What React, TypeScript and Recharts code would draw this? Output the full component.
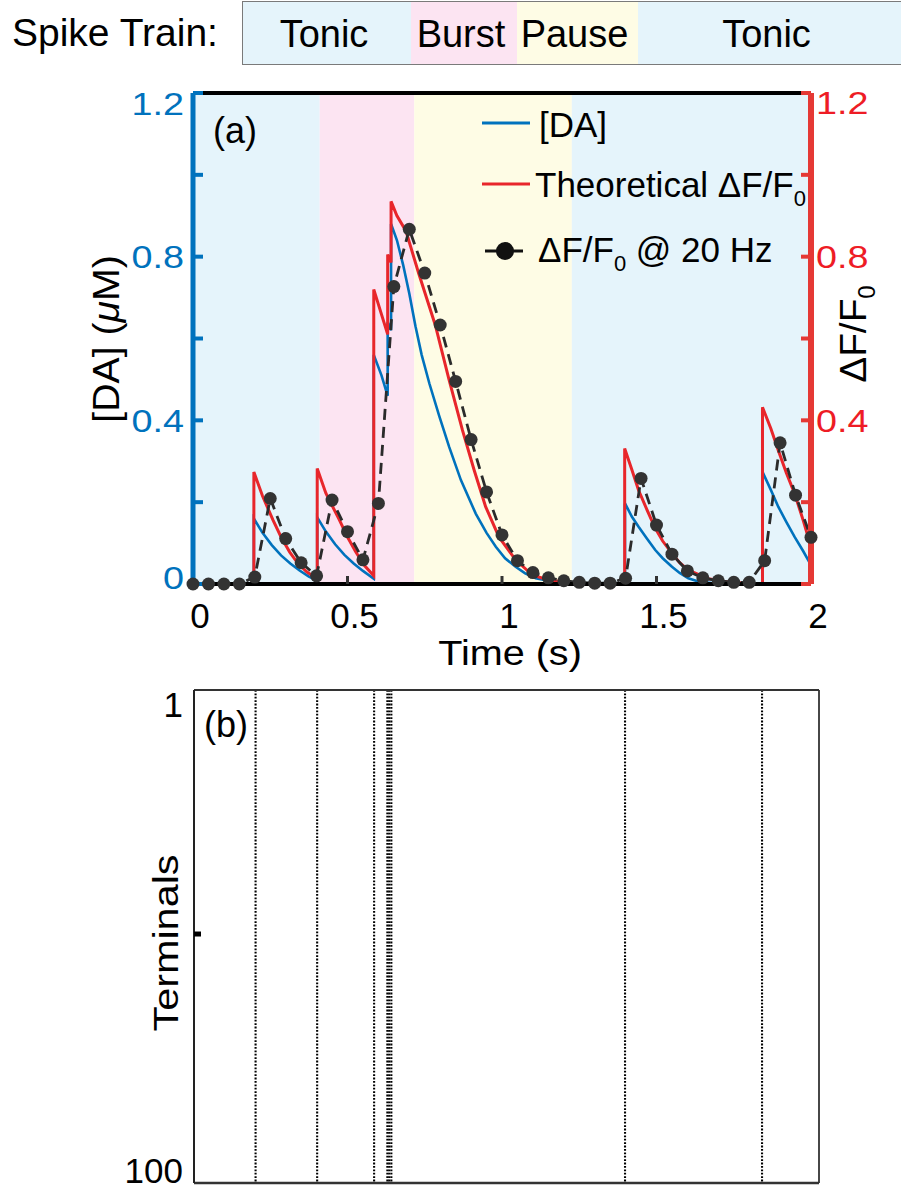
import React from 'react';
import {
  ComposedChart,
  Line,
  XAxis,
  YAxis,
  ReferenceArea,
  BarChart,
  Bar,
  LabelList,
} from 'recharts';

const FONT = '"Liberation Sans", Arial, Helvetica, sans-serif';
const BLUE = '#0072BD';
const RED = '#E8262B';
const AXRED = '#E53935';
const DOT = '#333333';

// ---- Spike train header ----
const trainLabels = ['Tonic', 'Burst', 'Pause', 'Tonic'];
const trainSpans = [168, 106, 121, 263];
const trainColors = ['#E5F4FB', '#FCE4F2', '#FEFCE5', '#E5F4FB'];

// ---- Panel (a) background phases ----
const phaseStart = [0, 0.41, 0.716, 1.226];
const phaseEnd = [0.41, 0.716, 1.226, 2];
const phaseColors = ['#E5F4FB', '#FCE4F2', '#FEFCE5', '#E5F4FB'];

// ---- [DA] (uM), left axis ----
const daTime = [
  0, 0.197, 0.197, 0.225, 0.255, 0.285, 0.315, 0.345, 0.375, 0.402,
  0.402, 0.43, 0.46, 0.49, 0.52, 0.55, 0.585,
  0.585, 0.61, 0.63, 0.63, 0.641, 0.641, 0.66, 0.68, 0.7, 0.72, 0.74, 0.765,
  0.797, 0.829, 0.867, 0.915, 0.95, 0.98, 1.01, 1.044, 1.075, 1.109, 1.17, 1.25, 1.398,
  1.398, 1.42, 1.442, 1.47, 1.496, 1.52, 1.55, 1.575, 1.603, 1.64, 1.7, 1.843,
  1.843, 1.87, 1.894, 1.92, 1.947, 1.975, 2.0,
];
const daValue = [
  0, 0, 0.16, 0.125, 0.095, 0.07, 0.05, 0.033, 0.018, 0.008,
  0.163, 0.128, 0.097, 0.071, 0.05, 0.032, 0.013,
  0.56, 0.51, 0.46, 0.64, 0.62, 0.88, 0.84, 0.78, 0.71, 0.63, 0.56, 0.49,
  0.41, 0.335, 0.254, 0.172, 0.125, 0.091, 0.063, 0.042, 0.026, 0.014, 0.005, 0.001, 0,
  0.197, 0.165, 0.14, 0.11, 0.083, 0.063, 0.042, 0.027, 0.014, 0.005, 0.001, 0,
  0.274, 0.23, 0.189, 0.152, 0.115, 0.08, 0.046,
];

// ---- Theoretical dF/F0, right axis ----
const theoTime = [
  0, 0.197, 0.197, 0.225, 0.259, 0.285, 0.313, 0.34, 0.368, 0.402,
  0.402, 0.43, 0.474, 0.5, 0.527, 0.555, 0.585,
  0.585, 0.63, 0.63, 0.641, 0.641, 0.66, 0.689, 0.73, 0.784, 0.829, 0.872, 0.91,
  0.947, 0.99, 1.044, 1.098, 1.15, 1.22, 1.3, 1.397,
  1.397, 1.42, 1.442, 1.47, 1.496, 1.52, 1.55, 1.575, 1.603, 1.668, 1.74, 1.843,
  1.843, 1.87, 1.894, 1.92, 1.947, 1.975, 2.0,
];
const theoValue = [
  0, 0, 0.274, 0.215, 0.156, 0.115, 0.078, 0.05, 0.03, 0.012,
  0.282, 0.222, 0.156, 0.115, 0.078, 0.045, 0.02,
  0.72, 0.61, 0.805, 0.786, 0.935, 0.9, 0.863, 0.76, 0.633, 0.498, 0.376, 0.278,
  0.189, 0.115, 0.059, 0.022, 0.01, 0.003, 0, 0,
  0.331, 0.28, 0.229, 0.18, 0.136, 0.105, 0.075, 0.052, 0.034, 0.013, 0.004, 0,
  0.432, 0.38, 0.327, 0.272, 0.221, 0.155, 0.091,
];

// ---- dF/F0 sampled @ 20 Hz, right axis ----
const sampleTime = [
  0, 0.05, 0.1, 0.15, 0.2, 0.25, 0.3, 0.35, 0.4, 0.45,
  0.5, 0.55, 0.6, 0.65, 0.7, 0.75, 0.8, 0.85, 0.9, 0.95,
  1.0, 1.05, 1.1, 1.15, 1.2, 1.25, 1.3, 1.35, 1.4, 1.45,
  1.5, 1.55, 1.6, 1.65, 1.7, 1.75, 1.8, 1.85, 1.9, 1.95, 2.0,
];
const sampleValue = [
  0, 0, 0, 0, 0.017, 0.209, 0.111, 0.052, 0.02, 0.205,
  0.128, 0.059, 0.197, 0.727, 0.867, 0.76, 0.633, 0.495, 0.353, 0.225,
  0.12, 0.057, 0.028, 0.015, 0.008, 0.004, 0.002, 0.002, 0.014, 0.258,
  0.144, 0.073, 0.032, 0.015, 0.008, 0.004, 0.004, 0.057, 0.345, 0.217, 0.114,
];

// ---- Panel (b) raster ----
const spikeTimes = [0.2, 0.4, 0.585, 0.628, 0.634, 0.641, 1.4, 1.845];
const terminalRange = [1, 100];

// ---- ticks ----
const xTicks = [0, 0.5, 1, 1.5, 2];
const xTicksInner = [0.5, 1, 1.5];
const yTicks = [0, 0.2, 0.4, 0.6, 0.8, 1.0, 1.2];
const leftLabelTicks = [0, 0.4, 0.8, 1.2];
const rightLabelTicks = [0.4, 0.8, 1.2];
const terminalTicks = [1, 50, 100];
const terminalLabelTicks = [1, 100];

const zip = (xs: number[], ys: number[]) => xs.map((t, i) => ({ t, v: ys[i] }));
const daData = zip(daTime, daValue);
const theoData = zip(theoTime, theoValue);
const sampleData = zip(sampleTime, sampleValue);

const has = (arr: number[], v: number) => arr.some((a) => Math.abs(a - v) < 1e-9);

const makeYTick =
  (labels: number[], color: string, anchor: 'start' | 'end', fontSize: number, scaleX: number, top: number, bottom: number, shiftTop: number, shiftBottom: number) =>
  (props: any) => {
    const { x, y, payload } = props;
    const v = payload.value;
    if (!has(labels, v)) return <g />;
    const shift = Math.abs(v - top) < 1e-9 ? shiftTop : Math.abs(v - bottom) < 1e-9 ? shiftBottom : 0;
    return (
      <text
        transform={`translate(${x},${y + shift}) scale(${scaleX},1)`}
        x={0}
        y={0}
        dy="0.36em"
        textAnchor={anchor}
        fill={color}
        fontSize={fontSize}
        fontFamily={FONT}
      >
        {String(v)}
      </text>
    );
  };

const LeftTick = makeYTick(leftLabelTicks, BLUE, 'end', 32, 1.18, 1.2, 0, 10, -7);
const RightTick = makeYTick(rightLabelTicks, '#EE1C25', 'start', 32, 1.18, 1.2, 0, 9, 0);
const TermLabel = makeYTick(terminalLabelTicks, '#000', 'end', 35, 1.0, 1, 100, 14, -12);
const TERM_MARGIN = 11;
// label for ends, short inward tick mark for the middle tick
const TermTick = (props: any) => {
  const v = props.payload.value;
  if (has(terminalLabelTicks, v)) return TermLabel(props);
  return (
    <line
      x1={props.x + TERM_MARGIN}
      x2={props.x + TERM_MARGIN + 7}
      y1={props.y}
      y2={props.y}
      stroke="#000"
      strokeWidth={5}
    />
  );
};

const XTick = (props: any) => {
  const { x, y, payload } = props;
  return (
    <text x={x + 7} y={y} dy="0.71em" textAnchor="middle" fill="#000" fontSize={35} fontFamily={FONT}>
      {String(payload.value)}
    </text>
  );
};

const trainRow = [
  trainSpans.reduce((o: any, s, i) => {
    o[`s${i}`] = s;
    return o;
  }, { name: 'train' }),
];
const trainTotal = trainSpans.reduce((a, b) => a + b, 0);

function SpikeTrainHeader() {
  return (
    <div
      style={{
        position: 'absolute',
        left: 242,
        top: 1,
        width: 670,
        height: 62,
        border: '1.5px solid #7a7a7a',
        background: '#fff',
      }}
    >
      <BarChart
        layout="vertical"
        width={trainTotal}
        height={62}
        data={trainRow}
        margin={{ top: 0, right: 0, bottom: 0, left: 0 }}
        barCategoryGap={0}
      >
        <XAxis type="number" hide domain={[0, trainTotal]} />
        <YAxis type="category" dataKey="name" hide />
        {trainSpans.map((_, i) => (
          <Bar key={i} dataKey={`s${i}`} stackId="t" fill={trainColors[i]} isAnimationActive={false}>
            <LabelList
              dataKey={`s${i}`}
              content={(p: any) => (
                <text
                  x={p.x + p.width / 2 - 3}
                  y={p.y + p.height / 2}
                  dy="0.36em"
                  textAnchor="middle"
                  fontSize={38}
                  fontFamily={FONT}
                  fill="#000"
                >
                  {trainLabels[i]}
                </text>
              )}
            />
          </Bar>
        ))}
      </BarChart>
    </div>
  );
}

function PanelA() {
  return (
    <div style={{ position: 'absolute', left: 0, top: 70 }}>
      <ComposedChart width={901} height={610} margin={{ top: 22, right: 10, bottom: 36, left: 113 }}>
        {phaseStart.map((s, i) => (
          <ReferenceArea
            key={i}
            xAxisId="bottom"
            yAxisId="left"
            x1={s}
            x2={phaseEnd[i]}
            y1={0}
            y2={1.2}
            fill={phaseColors[i]}
            fillOpacity={1}
            stroke="none"
            ifOverflow="visible"
          />
        ))}
        <XAxis
          xAxisId="bottom"
          dataKey="t"
          type="number"
          domain={[0, 2]}
          ticks={xTicks}
          height={60}
          tickSize={-8}
          tickMargin={27}
          tick={XTick}
          axisLine={{ stroke: '#000', strokeWidth: 4 }}
          tickLine={{ stroke: '#333', strokeWidth: 3 }}
        />
        <XAxis
          xAxisId="top"
          orientation="top"
          dataKey="t"
          type="number"
          domain={[0, 2]}
          allowDataOverflow
          ticks={xTicksInner}
          height={1}
          tickSize={-8}
          tick={false}
          axisLine={{ stroke: '#000', strokeWidth: 4 }}
          tickLine={{ stroke: '#333', strokeWidth: 3 }}
        />
        <YAxis
          yAxisId="left"
          type="number"
          domain={[0, 1.2]}
          ticks={yTicks}
          width={80}
          tickSize={-10}
          tickMargin={19}
          tick={LeftTick}
          axisLine={{ stroke: BLUE, strokeWidth: 5 }}
          tickLine={{ stroke: BLUE, strokeWidth: 4 }}
        />
        <YAxis
          yAxisId="right"
          orientation="right"
          type="number"
          domain={[0, 1.2]}
          ticks={yTicks}
          width={80}
          tickSize={-10}
          tickMargin={15}
          tick={RightTick}
          axisLine={{ stroke: AXRED, strokeWidth: 6 }}
          tickLine={{ stroke: AXRED, strokeWidth: 4 }}
        />
        <Line
          xAxisId="bottom"
          yAxisId="left"
          data={daData}
          dataKey="v"
          type="linear"
          stroke={BLUE}
          strokeWidth={2.6}
          dot={false}
          activeDot={false}
          isAnimationActive={false}
        />
        <Line
          xAxisId="bottom"
          yAxisId="right"
          data={theoData}
          dataKey="v"
          type="linear"
          stroke={RED}
          strokeWidth={3}
          dot={false}
          activeDot={false}
          isAnimationActive={false}
        />
        <Line
          xAxisId="bottom"
          yAxisId="right"
          data={sampleData}
          dataKey="v"
          type="linear"
          stroke="#2b2b2b"
          strokeWidth={2.8}
          strokeDasharray="11 7"
          dot={{ r: 6.5, fill: DOT, stroke: 'none', strokeDasharray: '', clipDot: false }}
          activeDot={false}
          isAnimationActive={false}
        />
      </ComposedChart>
    </div>
  );
}

function PanelB() {
  return (
    <div style={{ position: 'absolute', left: 0, top: 680 }}>
      <ComposedChart width={901} height={511} margin={{ top: 9, right: 81, bottom: 7, left: 114 }}>
        <XAxis
          xAxisId="bottom"
          dataKey="t"
          type="number"
          domain={[0, 2.03]}
          allowDataOverflow
          height={1}
          tick={false}
          tickLine={false}
          axisLine={{ stroke: '#333', strokeWidth: 2.5 }}
        />
        <XAxis
          xAxisId="top"
          orientation="top"
          dataKey="t"
          type="number"
          domain={[0, 2.03]}
          allowDataOverflow
          height={1}
          tick={false}
          tickLine={false}
          axisLine={{ stroke: '#333', strokeWidth: 1.8 }}
        />
        <YAxis
          yAxisId="left"
          type="number"
          reversed
          domain={terminalRange}
          allowDataOverflow
          ticks={terminalTicks}
          width={80}
          tickSize={0}
          tickMargin={TERM_MARGIN}
          tick={TermTick}
          tickLine={false}
          axisLine={{ stroke: '#222', strokeWidth: 2 }}
        />
        <YAxis
          yAxisId="right"
          orientation="right"
          type="number"
          reversed
          domain={terminalRange}
          allowDataOverflow
          width={1}
          tick={false}
          tickLine={false}
          axisLine={{ stroke: '#333', strokeWidth: 1.8 }}
        />
        {spikeTimes.map((s, i) => (
          <Line
            key={i}
            xAxisId="bottom"
            yAxisId="left"
            data={[
              { t: s, n: terminalRange[0] },
              { t: s, n: terminalRange[1] },
            ]}
            dataKey="n"
            type="linear"
            stroke="#000"
            strokeWidth={2.1}
            strokeDasharray="1.8 1.6"
            dot={false}
            activeDot={false}
            isAnimationActive={false}
          />
        ))}
      </ComposedChart>
    </div>
  );
}

function Overlay() {
  const t: any = { fontFamily: FONT, fill: '#000' };
  return (
    <svg
      width={901}
      height={1191}
      style={{ position: 'absolute', left: 0, top: 0, pointerEvents: 'none' }}
    >
      <text x={12} y={46} fontSize={39} {...t}>Spike Train:</text>
      <text x={213} y={143} fontSize={36} {...t}>(a)</text>
      {/* legend */}
      <line x1={482} x2={530} y1={123} y2={123} stroke={BLUE} strokeWidth={3} />
      <text x={539} y={137} fontSize={35} {...t}>[DA]</text>
      <line x1={482} x2={530} y1={184} y2={184} stroke={RED} strokeWidth={3} />
      <text x={535} y={197} fontSize={35} {...t}>
        Theoretical ΔF/F<tspan fontSize={22} dy={9}>0</tspan>
      </text>
      <line x1={485} x2={523} y1={251} y2={251} stroke="#111" strokeWidth={3} />
      <circle cx={505} cy={251} r={9} fill="#111" />
      <text x={538} y={262} fontSize={35} {...t}>
        ΔF/F<tspan fontSize={22} dy={9}>0</tspan>
        <tspan dy={-9}> @ 20 Hz</tspan>
      </text>
      {/* axis titles */}
      <text transform="translate(106,339) rotate(-90) scale(1.06,1)" textAnchor="middle" dy="0.36em" fontSize={37} {...t}>
        [DA] (<tspan fontStyle="italic">μ</tspan>M)
      </text>
      <text transform="translate(853,334) rotate(-90) scale(1.05,1)" textAnchor="middle" dy="0.36em" fontSize={37} {...t}>
        ΔF/F<tspan fontSize={23} dy={9}>0</tspan>
      </text>
      <text transform="translate(510,665) scale(1.1,1)" textAnchor="middle" fontSize={36} {...t}>Time (s)</text>
      <text x={204} y={737} fontSize={36} {...t}>(b)</text>
      <text transform="translate(165,943) rotate(-90) scale(1.15,1)" textAnchor="middle" dy="0.36em" fontSize={36} {...t}>
        Terminals
      </text>
    </svg>
  );
}

export default function App() {
  return (
    <div
      style={{
        position: 'absolute',
        left: 0,
        top: 0,
        width: 901,
        height: 1191,
        overflow: 'hidden',
        background: '#fff',
        fontFamily: FONT,
      }}
    >
      <SpikeTrainHeader />
      <PanelA />
      <PanelB />
      <Overlay />
    </div>
  );
}
